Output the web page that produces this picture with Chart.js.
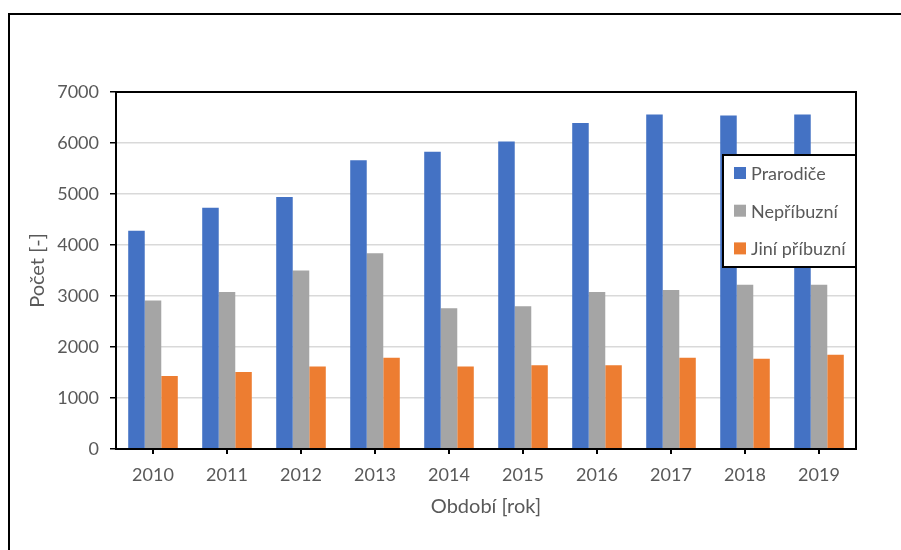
<!DOCTYPE html>
<html>
<head>
<meta charset="utf-8">
<script src="https://cdn.jsdelivr.net/npm/chart.js@4.4.0/dist/chart.umd.min.js"></script>
<style>
  html, body { margin: 0; padding: 0; background: #fff; }
  #wrap { width: 901px; height: 550px; position: relative; }
</style>
</head>
<body>
<div id="wrap"><canvas id="graf"></canvas></div>
<script>
// Roky a počty dětí podle typu pěstounské péče
var roky = ["2010", "2011", "2012", "2013", "2014", "2015", "2016", "2017", "2018", "2019"];
var prarodice = [4280, 4730, 4940, 5660, 5830, 6030, 6390, 6560, 6540, 6560];
var nepribuzni = [2910, 3080, 3500, 3840, 2760, 2800, 3080, 3120, 3220, 3220];
var jiniPribuzni = [1430, 1510, 1620, 1790, 1620, 1640, 1640, 1790, 1770, 1850];
var osaYMax = 7000;
var osaYKrok = 1000;

var sedaTextu = "#595959";
var pismo = "Lato, 'Open Sans', sans-serif";

// Rámeček kolem grafu, obdélník plochy a vlastní legenda uvnitř plochy
var ramecek = {
    id: "ramecek",
    beforeDraw: function (chart) {
        var ctx = chart.ctx;
        ctx.save();
        ctx.strokeStyle = "#000";
        ctx.lineWidth = 2;
        ctx.beginPath();
        ctx.moveTo(9, chart.height);
        ctx.lineTo(9, 14);
        ctx.lineTo(chart.width, 14);
        ctx.stroke();
        ctx.restore();
    },
    afterDatasetsDraw: function (chart) {
        var a = chart.chartArea;
        var ctx = chart.ctx;
        ctx.save();
        ctx.strokeStyle = "#000";
        ctx.lineWidth = 2;
        ctx.strokeRect(a.left, a.top, a.right - a.left, a.bottom - a.top);
        ctx.restore();
    },
    afterDraw: function (chart) {
        var a = chart.chartArea;
        var ctx = chart.ctx;
        var sirka = 133, vyska = 112;
        var x = a.right - sirka, y = 155;
        ctx.save();
        ctx.fillStyle = "#fff";
        ctx.fillRect(x, y, sirka, vyska);
        ctx.strokeStyle = "#000";
        ctx.lineWidth = 2;
        ctx.strokeRect(x, y, sirka, vyska);
        ctx.font = "18px " + pismo;
        ctx.textBaseline = "middle";
        chart.data.datasets.forEach(function (ds, i) {
            var cy = y + 18 + i * 37.7;
            ctx.fillStyle = ds.backgroundColor;
            ctx.fillRect(x + 11, cy - 6, 12, 12);
            ctx.fillStyle = sedaTextu;
            ctx.fillText(ds.label, x + 28, cy + 1);
        });
        ctx.restore();
    }
};

var ctx = document.getElementById("graf").getContext("2d");
var graf = new Chart(ctx, {
    type: "bar",
    data: {
        labels: roky,
        datasets: [
            { label: "Prarodiče", data: prarodice, backgroundColor: "#4472C4" },
            { label: "Nepříbuzní", data: nepribuzni, backgroundColor: "#A5A5A5" },
            { label: "Jiní příbuzní", data: jiniPribuzni, backgroundColor: "#ED7D31" }
        ]
    },
    options: {
        responsive: true,
        maintainAspectRatio: false,
        animation: false,
        layout: { padding: { top: 92, right: 45, bottom: 0, left: 0 } },
        datasets: {
            bar: { categoryPercentage: 0.67, barPercentage: 1.0 }
        },
        plugins: {
            legend: { display: false },
            tooltip: { enabled: false }
        },
        scales: {
            x: {
                afterFit: function (s) { s.height = 101; },
                grid: {
                    display: true,
                    drawOnChartArea: false,
                    offset: false,
                    tickLength: 5,
                    tickColor: "#000",
                    lineWidth: 2
                },
                border: { color: "#000", width: 2 },
                ticks: {
                    color: sedaTextu,
                    font: { family: pismo, size: 18 },
                    padding: 10,
                    maxRotation: 0
                },
                title: {
                    display: true,
                    text: "Období [rok]",
                    color: sedaTextu,
                    font: { family: pismo, size: 20 },
                    padding: { top: 0, bottom: 31 }
                }
            },
            y: {
                min: 0,
                max: osaYMax,
                afterFit: function (s) { s.width = 116; },
                grid: {
                    color: "#D9D9D9",
                    lineWidth: 1.5,
                    tickColor: "#000",
                    tickLength: 6
                },
                border: { color: "#000", width: 2 },
                ticks: {
                    stepSize: osaYKrok,
                    color: sedaTextu,
                    font: { family: pismo, size: 18 },
                    padding: 11,
                    callback: function (v) { return String(v); }
                },
                title: {
                    display: true,
                    text: "Počet [-]",
                    color: sedaTextu,
                    font: { family: pismo, size: 20 },
                    padding: { top: 26, bottom: 0 }
                }
            }
        }
    },
    plugins: [ramecek]
});
</script>
</body>
</html>
